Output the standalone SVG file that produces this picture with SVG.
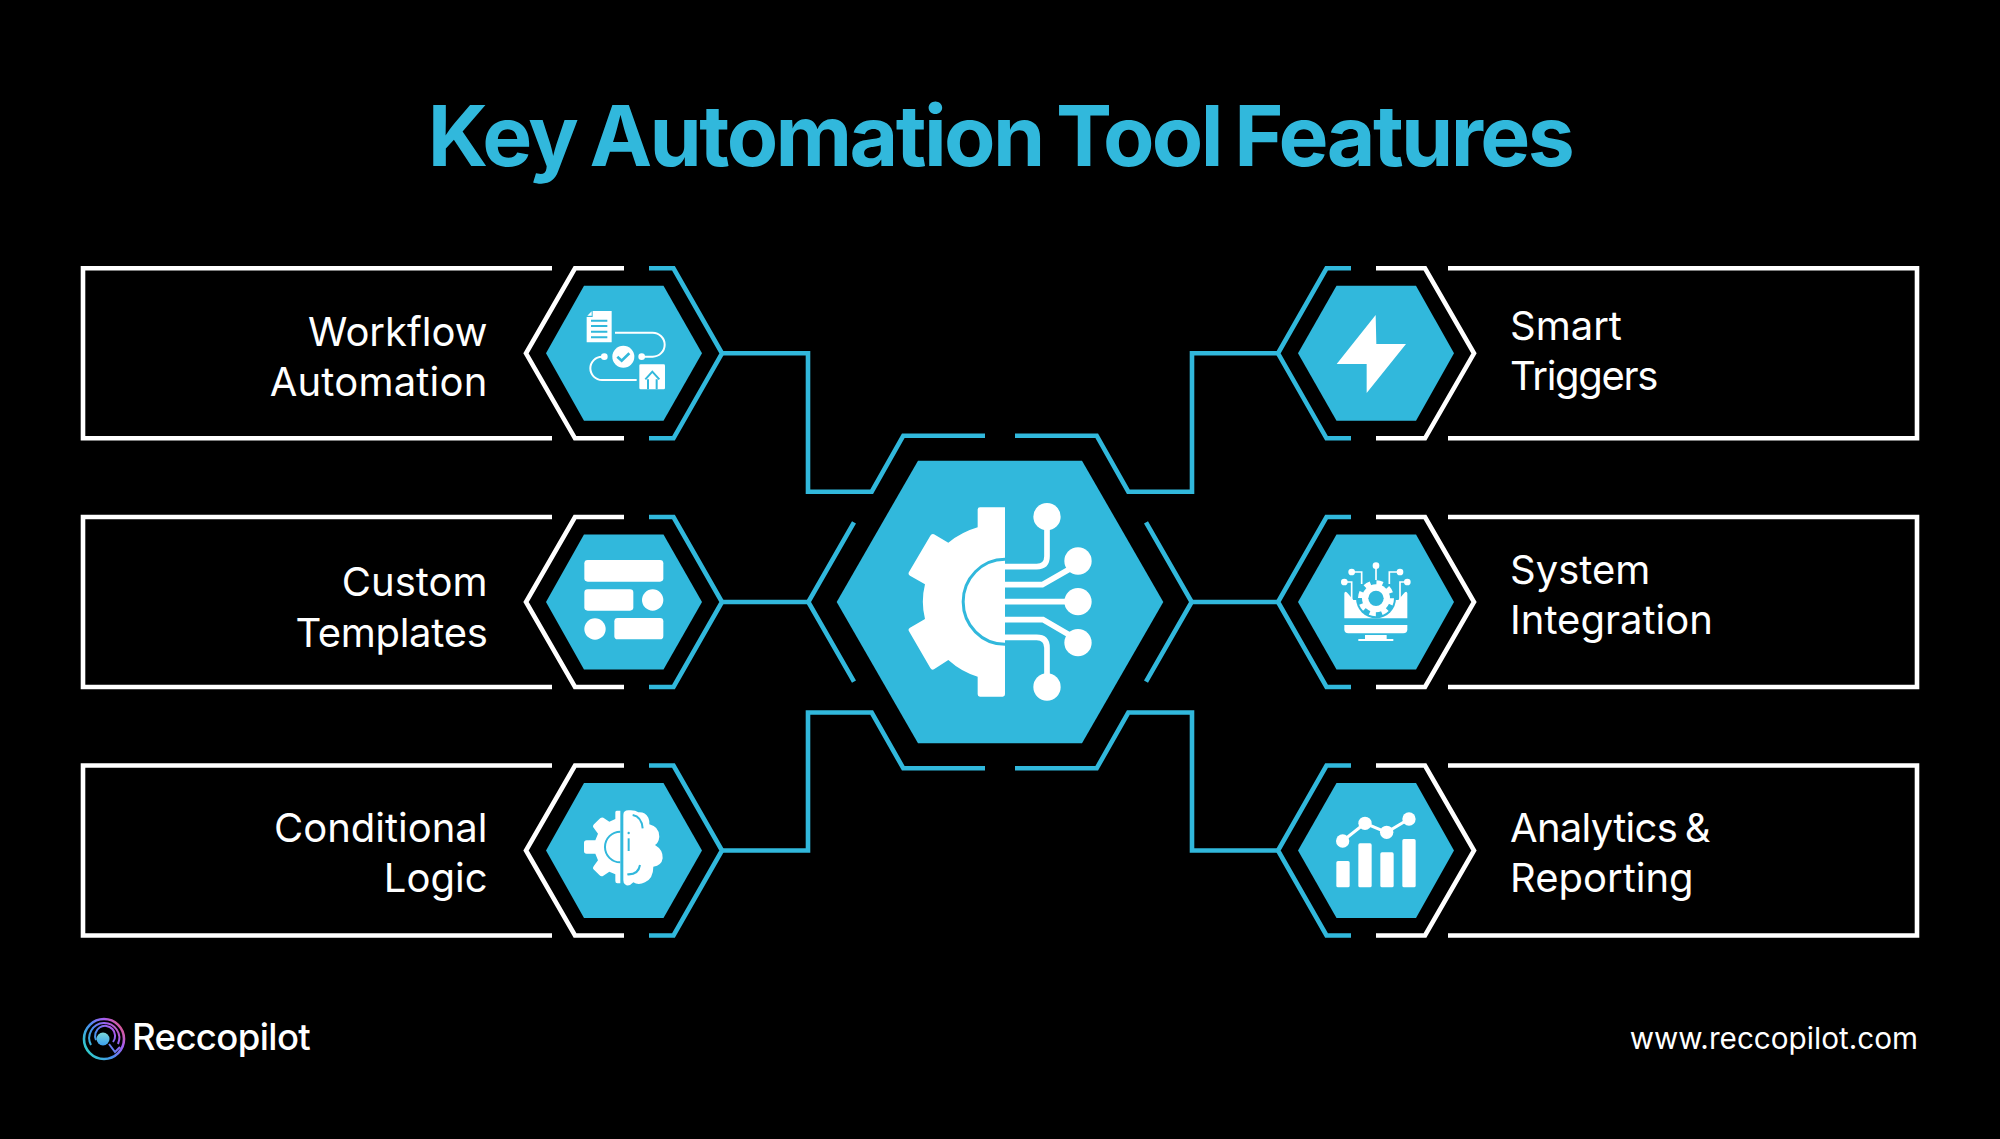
<svg xmlns="http://www.w3.org/2000/svg" xmlns:xlink="http://www.w3.org/1999/xlink" width="2000" height="1139" viewBox="0 0 2000 1139">
<style>
text{font-family:"Inter","Liberation Sans",sans-serif;fill:#fff}
.title{font-size:84px;font-weight:700;fill:#31b8dc;letter-spacing:-2.6px;word-spacing:-4px}
.lab{font-size:40px;font-weight:400}
.l{text-anchor:end}
.w{fill:none;stroke:#fff;stroke-width:4.6}
.b{fill:none;stroke:#31b8dc;stroke-width:4.6}
.hx{fill:#31b8dc}
.ic{fill:#fff}
.il{fill:none;stroke:#fff;stroke-width:6}
</style>
<defs>
<g id="frame">
<path class="w" d="M-72,-85H-541V85H-72"/>
<path class="w" d="M0,-85H-49L-98,0L-49,85H0"/>
<path class="b" d="M25,-85H49.5L98,0L49.5,85H25"/>
<path class="hx" d="M-78,0L-40,-67.5H39.5L78,0L39.5,67.5H-40Z"/>
</g>
<linearGradient id="lg" gradientUnits="userSpaceOnUse" x1="124" y1="1022" x2="84" y2="1050">
<stop offset="0" stop-color="#f0586a"/><stop offset=".3" stop-color="#a45cf0"/><stop offset=".6" stop-color="#4a8cf0"/><stop offset="1" stop-color="#2fd0c8"/>
</linearGradient>
<linearGradient id="lg2" x1="0" y1="0" x2="0" y2="1"><stop offset="0" stop-color="#7ad8d8"/><stop offset="1" stop-color="#3aa0f0"/></linearGradient>
</defs>
<rect width="2000" height="1139" fill="#000"/>
<text class="title" x="1000" y="166" text-anchor="middle">Key Automation Tool Features</text>

<g id="connectors" class="b">
<path class="b" d="M722,353.3H808V491.7H871.7L903.3,435.7H985"/>
<path class="b" d="M722,602H808"/>
<path class="b" d="M722,850.5H808V712.5H871.7L903.3,768.3H985"/>
<path class="b" d="M1278,353.3H1192V491.7H1128.3L1096.7,435.7H1015"/>
<path class="b" d="M1278,602H1192"/>
<path class="b" d="M1278,850.5H1192V712.5H1128.3L1096.7,768.3H1015"/>
</g>

<g id="center">
<path class="b" d="M854,522.3L808.3,602L854,681.7"/>
<path class="b" d="M1146,522.3L1191.7,602L1146,681.7"/>
<path class="hx" d="M836.7,602L918,460.7H1082L1163.3,602L1082,743.3H918Z"/>
<g transform="translate(780,410) scale(.33333)">
<path class="ic" d="M675,292H600Q593,292 593,299V352Q545,366 505,398L462,373Q455,370 451,377L387,486Q383,493 390,497L435,523Q422,575 435,627L390,653Q383,657 387,664L451,774Q455,781 462,778L505,750Q545,786 593,800V853Q593,860 600,860H668Q675,860 675,853Z"/>
<path d="M675,448A125,127 0 0 0 675,703" fill="none" stroke="#31b8dc" stroke-width="9"/>
<g fill="none" stroke="#fff" stroke-width="17">
<path d="M675,470H770Q801,470 801,439V320"/>
<path d="M675,524H787L894,463"/>
<path d="M675,575H894"/>
<path d="M675,629H789L894,690"/>
<path d="M675,682H770Q801,682 801,713V830"/>
</g>
<g class="ic"><circle cx="801" cy="320" r="41"/><circle cx="894" cy="453" r="41"/><circle cx="894" cy="575" r="41"/><circle cx="894" cy="698" r="41"/><circle cx="801" cy="831" r="41"/></g>
</g>
</g>

<g id="workflow-automation">
<use xlink:href="#frame" href="#frame" x="624" y="353.3"/>
<text class="lab l" x="487.5" y="346">Workflow</text>
<text class="lab l" x="487.5" y="395.5" letter-spacing=".2">Automation</text>
<g transform="translate(570,300) scale(.33333)">
<path class="ic" d="M68,33H125V127H50V51H68Z"/><path class="ic" d="M52,47L65,34V47Z"/>
<path d="M63,62H112M63,78H112M63,95H112M63,112H112" fill="none" stroke="#31b8dc" stroke-width="6"/>
<path class="il" d="M135,98H248A36,36 0 0 1 248,170H215"/>
<path class="il" d="M103,170H96A35,35 0 0 0 96,240H200"/>
<circle class="ic" cx="215" cy="170" r="10"/><circle class="ic" cx="103" cy="170" r="10"/>
<circle class="ic" cx="160" cy="170" r="33"/>
<path d="M142,170L155,182L178,160" fill="none" stroke="#31b8dc" stroke-width="8"/>
<rect class="ic" x="208" y="193" width="77" height="75" rx="4"/>
<path d="M226,238L247,215L268,238M234,268V238M260,268V238" fill="none" stroke="#31b8dc" stroke-width="6"/>
</g>
</g>

<g id="custom-templates">
<use xlink:href="#frame" href="#frame" x="624" y="602"/>
<text class="lab l" x="487.5" y="595.5">Custom</text>
<text class="lab l" x="487.5" y="647" letter-spacing="-.3">Templates</text>
<g class="ic" transform="translate(570,550) scale(.33333)">
<rect x="43" y="30" width="237" height="65" rx="10"/><rect x="43" y="118" width="147" height="64" rx="10"/><circle cx="248" cy="150" r="32"/><circle cx="75" cy="237" r="32"/><rect x="133" y="204" width="147" height="64" rx="10"/>
</g>
</g>

<g id="conditional-logic">
<use xlink:href="#frame" href="#frame" x="624" y="850.5"/>
<text class="lab l" x="487.5" y="842">Conditional</text>
<text class="lab l" x="487.5" y="892">Logic</text>
<g transform="translate(570,795) scale(.33333)">
<path class="ic" d="M151,47H140Q136,47 136,52V72L118,80L100,68Q92,66 88,72L72,88Q66,94 72,100L84,116L76,136H50Q42,136 42,144V168Q42,176 50,176H76L84,196L72,212Q66,220 72,224L88,240Q94,246 100,242L118,230L136,238V258Q136,265 142,265H151Z"/>
<path d="M151,110A46,46 0 0 0 151,202" fill="none" stroke="#31b8dc" stroke-width="6"/>
<path class="ic" d="M160,60Q160,46 175,46Q195,44 205,52Q225,50 235,68Q240,80 238,88Q268,95 268,125Q266,143 255,150Q280,165 278,190Q275,212 250,215Q250,250 225,262Q205,272 190,262Q175,278 165,268Q160,265 160,255Z"/>
<g fill="none" stroke="#31b8dc" stroke-width="6"><path d="M188,60Q215,65 218,100"/><path d="M176,130V168"/><path d="M172,238Q205,240 210,210"/></g>
<circle cx="176" cy="114" r="3.5" fill="#31b8dc"/>
</g>
</g>

<g id="smart-triggers">
<use xlink:href="#frame" href="#frame" transform="translate(1376,353.3) scale(-1,1)"/>
<text class="lab" x="1510" y="340">Smart</text>
<text class="lab" x="1510" y="390" letter-spacing="-1.3">Triggers</text>
<polygon class="ic" transform="translate(1270,260) scale(.33333)" points="317,165 319,252 408,252 290,399 290,312 200,312"/>
</g>

<g id="system-integration">
<use xlink:href="#frame" href="#frame" transform="translate(1376,602) scale(-1,1)"/>
<text class="lab" x="1510" y="584">System</text>
<text class="lab" x="1510" y="634">Integration</text>
<g transform="translate(1320,550) scale(.33333)">
<path class="ic" d="M73,130Q75,120 85,132L100,150H235L250,132Q260,120 262,130V205H73Z"/>
<path class="ic" d="M73,225H262V238Q262,250 250,250H85Q73,250 73,238Z"/>
<path class="ic" d="M135,255H200V267H220V273H115V267H135Z"/>
<circle cx="168" cy="145" r="60" fill="#31b8dc"/>
<circle class="ic" cx="168" cy="145" r="42"/>
<circle cx="168" cy="145" r="47" fill="none" stroke="#fff" stroke-width="14" stroke-dasharray="18.9 18"/>
<circle cx="168" cy="145" r="23" fill="#31b8dc"/>
<g fill="none" stroke="#fff" stroke-width="5"><path d="M168,50V90"/><path d="M95,66H125V102"/><path d="M240,66H208V102"/><path d="M73,96H95V150"/><path d="M262,96H240V150"/></g>
<g class="ic"><circle cx="168" cy="47" r="10"/><circle cx="95" cy="66" r="10"/><circle cx="240" cy="66" r="10"/><circle cx="73" cy="96" r="10"/><circle cx="262" cy="96" r="10"/></g>
</g>
</g>

<g id="analytics-reporting">
<use xlink:href="#frame" href="#frame" transform="translate(1376,850.5) scale(-1,1)"/>
<text class="lab" x="1510" y="842" word-spacing="-3" letter-spacing="-.7">Analytics &amp;</text>
<text class="lab" x="1510" y="891.5">Reporting</text>
<g transform="translate(1270,760) scale(.33333)">
<g class="ic"><rect x="199" y="303" width="40" height="79" rx="5"/><rect x="265" y="250" width="40" height="132" rx="5"/><rect x="331" y="277" width="40" height="105" rx="5"/><rect x="397" y="237" width="40" height="145" rx="5"/>
<circle cx="218" cy="243" r="20"/><circle cx="285" cy="190" r="20"/><circle cx="350" cy="217" r="20"/><circle cx="417" cy="177" r="20"/></g>
<path d="M218,243L285,190L350,217L417,177" fill="none" stroke="#fff" stroke-width="9"/>
</g>
</g>

<g id="logo">
<circle cx="104" cy="1039" r="20" fill="none" stroke="url(#lg)" stroke-width="2.6"/>
<path d="M91,1045A15,15 0 1 1 118,1044" fill="none" stroke="url(#lg)" stroke-width="2"/>
<path d="M96,1040A10,10 0 1 1 113,1042" fill="none" stroke="url(#lg)" stroke-width="2"/>
<circle cx="103" cy="1039" r="6.5" fill="url(#lg2)"/>
<path d="M109,1044L115,1052L120,1047" fill="none" stroke="url(#lg)" stroke-width="2"/>
<text x="132" y="1050" font-size="36.5" font-weight="500" letter-spacing="-.6">Reccopilot</text>
</g>
<text id="url" x="1918" y="1049" font-size="29.7" text-anchor="end">www.reccopilot.com</text>
</svg>
